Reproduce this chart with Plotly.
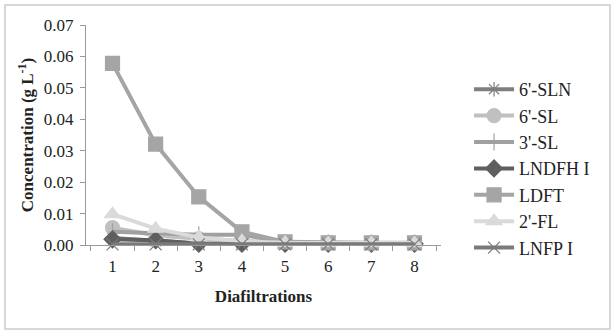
import plotly.graph_objects as go

diafiltrations = ["1", "2", "3", "4", "5", "6", "7", "8"]
s_6SLN = [0.0022, 0.0012, 0.0005, 0.0004, 0.0004, 0.0004, 0.0004, 0.0004]
s_6SL = [0.0055, 0.0030, 0.0020, 0.0015, 0.0007, 0.0006, 0.0006, 0.0006]
s_3SL = [0.0042, 0.0036, 0.0033, 0.0033, 0.0008, 0.0006, 0.0006, 0.0006]
s_LNDFH = [0.0018, 0.0015, 0.0004, 0.0004, 0.0004, 0.0004, 0.0004, 0.0004]
s_LDFT = [0.0578, 0.0321, 0.0153, 0.0042, 0.0010, 0.0007, 0.0007, 0.0007]
s_2FL = [0.0098, 0.0052, 0.0024, 0.0012, 0.0007, 0.0006, 0.0006, 0.0006]
s_LNFP = [0.0002, 0.0002, 0.0002, 0.0002, 0.0002, 0.0002, 0.0002, 0.0002]

series = [
    ("6'-SLN", s_6SLN, "#7f7f7f", "asterisk-open", 12),
    ("6'-SL", s_6SL, "#c0c0c0", "circle", 14),
    ("3'-SL", s_3SL, "#a0a0a0", "line-ns-open", 12),
    ("LNDFH I", s_LNDFH, "#5f5f5f", "diamond", 13),
    ("LDFT", s_LDFT, "#a5a5a5", "square", 14),
    ("2'-FL", s_2FL, "#dadada", "triangle-up", 14),
    ("LNFP I", s_LNFP, "#7a7a7a", "x-thin-open", 12),
]

fig = go.Figure()
for name, vals, col, sym, sz in series:
    fig.add_trace(go.Scatter(
        x=diafiltrations, y=vals, name=name, mode="lines+markers",
        line=dict(color=col, width=4), cliponaxis=False,
        marker=dict(symbol=sym, size=sz, color=col, line=dict(color=col, width=1.2)),
    ))

font = "'Liberation Serif', 'Times New Roman', serif"
fig.update_layout(
    width=616, height=335,
    margin=dict(l=86, r=175, t=25, b=90, autoexpand=False),
    paper_bgcolor="white", plot_bgcolor="white",
    font=dict(family=font, size=17, color="#222"),
    showlegend=True,
    legend=dict(x=1.079, y=0.791, xanchor="left", yanchor="top",
                font=dict(family=font, size=18, color="#222"),
                tracegroupgap=0, itemwidth=40, bgcolor="rgba(0,0,0,0)"),
    xaxis=dict(type="category", tickson="boundaries", ticks="outside", ticklen=5,
               tickcolor="#999", showline=True, linecolor="#999", linewidth=1,
               showgrid=False, zeroline=False, automargin=False, ticklabelstandoff=6,
               tickfont=dict(family=font, size=17),
               title=dict(text="<b>Diafiltrations</b>", font=dict(family=font, size=17), standoff=14)),
    yaxis=dict(range=[0, 0.07], dtick=0.01, tickformat=".2f", ticks="outside", ticklen=5,
               tickcolor="#999", showline=True, linecolor="#999", linewidth=1,
               showgrid=False, zeroline=False, automargin=False, ticklabelstandoff=3,
               tickfont=dict(family=font, size=17),
               title=dict(text="<b>Concentration (g L<sup>-1</sup>)</b>", font=dict(family=font, size=17), standoff=5)),
    shapes=[dict(type="rect", xref="paper", yref="paper",
                 x0=(5 - 86) / 355, x1=(610 - 86) / 355,
                 y0=(245 - 329) / 220, y1=(245 - 5) / 220,
                 line=dict(color="#cccccc", width=1.5))],
)

fig.write_html("out.html", config={"displayModeBar": False},
               post_script="document.body.style.margin='0';")
